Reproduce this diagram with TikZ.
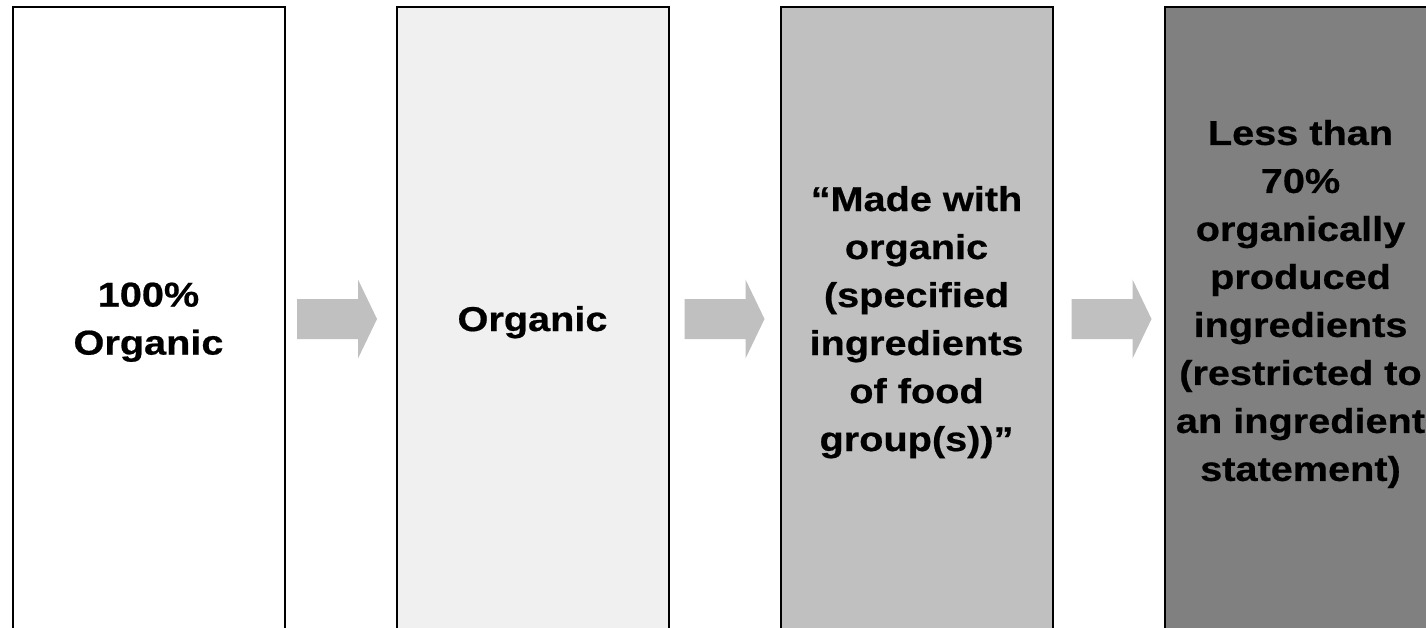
\documentclass[tikz,border=0pt]{standalone}
\usepackage{fontspec}
\setmainfont{Liberation Sans}[FakeStretch=1.15, FakeBold=0.6]
\usepackage{tikz}
\usetikzlibrary{calc}

\definecolor{stagelight}{HTML}{F0F0F0}
\definecolor{stagemid}{HTML}{C0C0C0}
\definecolor{stagedark}{HTML}{808080}

\begin{document}
\begin{tikzpicture}[x=1pt, y=-1pt,
		every node/.style={font=\fontsize{34.5}{48}\selectfont\bfseries, align=center},
		stage/.style={draw, line width=2pt, minimum width=272pt, minimum height=631pt, inner sep=0pt, outer sep=0pt},
		blockarrow/.style={fill=stagemid}]
			% Frame
			\useasboundingbox (0,0) rectangle (1426,628);
			\fill[white] (0,0) rectangle (1426,628);
			\clip (0,0) rectangle (1426,628);

			% Nodes
			\node[stage, fill=white] (all) at (148.5,322.2) {100\%\\Organic};
			\node[stage, fill=stagelight] (org) at (532.5,322.2) {Organic};
			\node[stage, fill=stagemid] (made) at (916.5,322.2) {“Made with\\organic\\(specified\\ingredients\\of food\\group(s))”};
			\node[stage, fill=stagedark] (less) at (1300.5,322.2) {};
			\node (lesstext) at (1300.5,304) {Less than\\70\%\\organically\\produced\\ingredients\\(restricted to\\an ingredient\\statement)};

			% Arrows
			\foreach \from/\gap in {all/12.5, org/16, made/19}
				\fill[blockarrow, shift={($(\from.east)+(\gap,-3.2)$)}]
					(0,-20) -- (61,-20) -- (61,-39.5) -- (80,0) -- (61,39.5) -- (61,20) -- (0,20) -- cycle;
		\end{tikzpicture}
\end{document}
